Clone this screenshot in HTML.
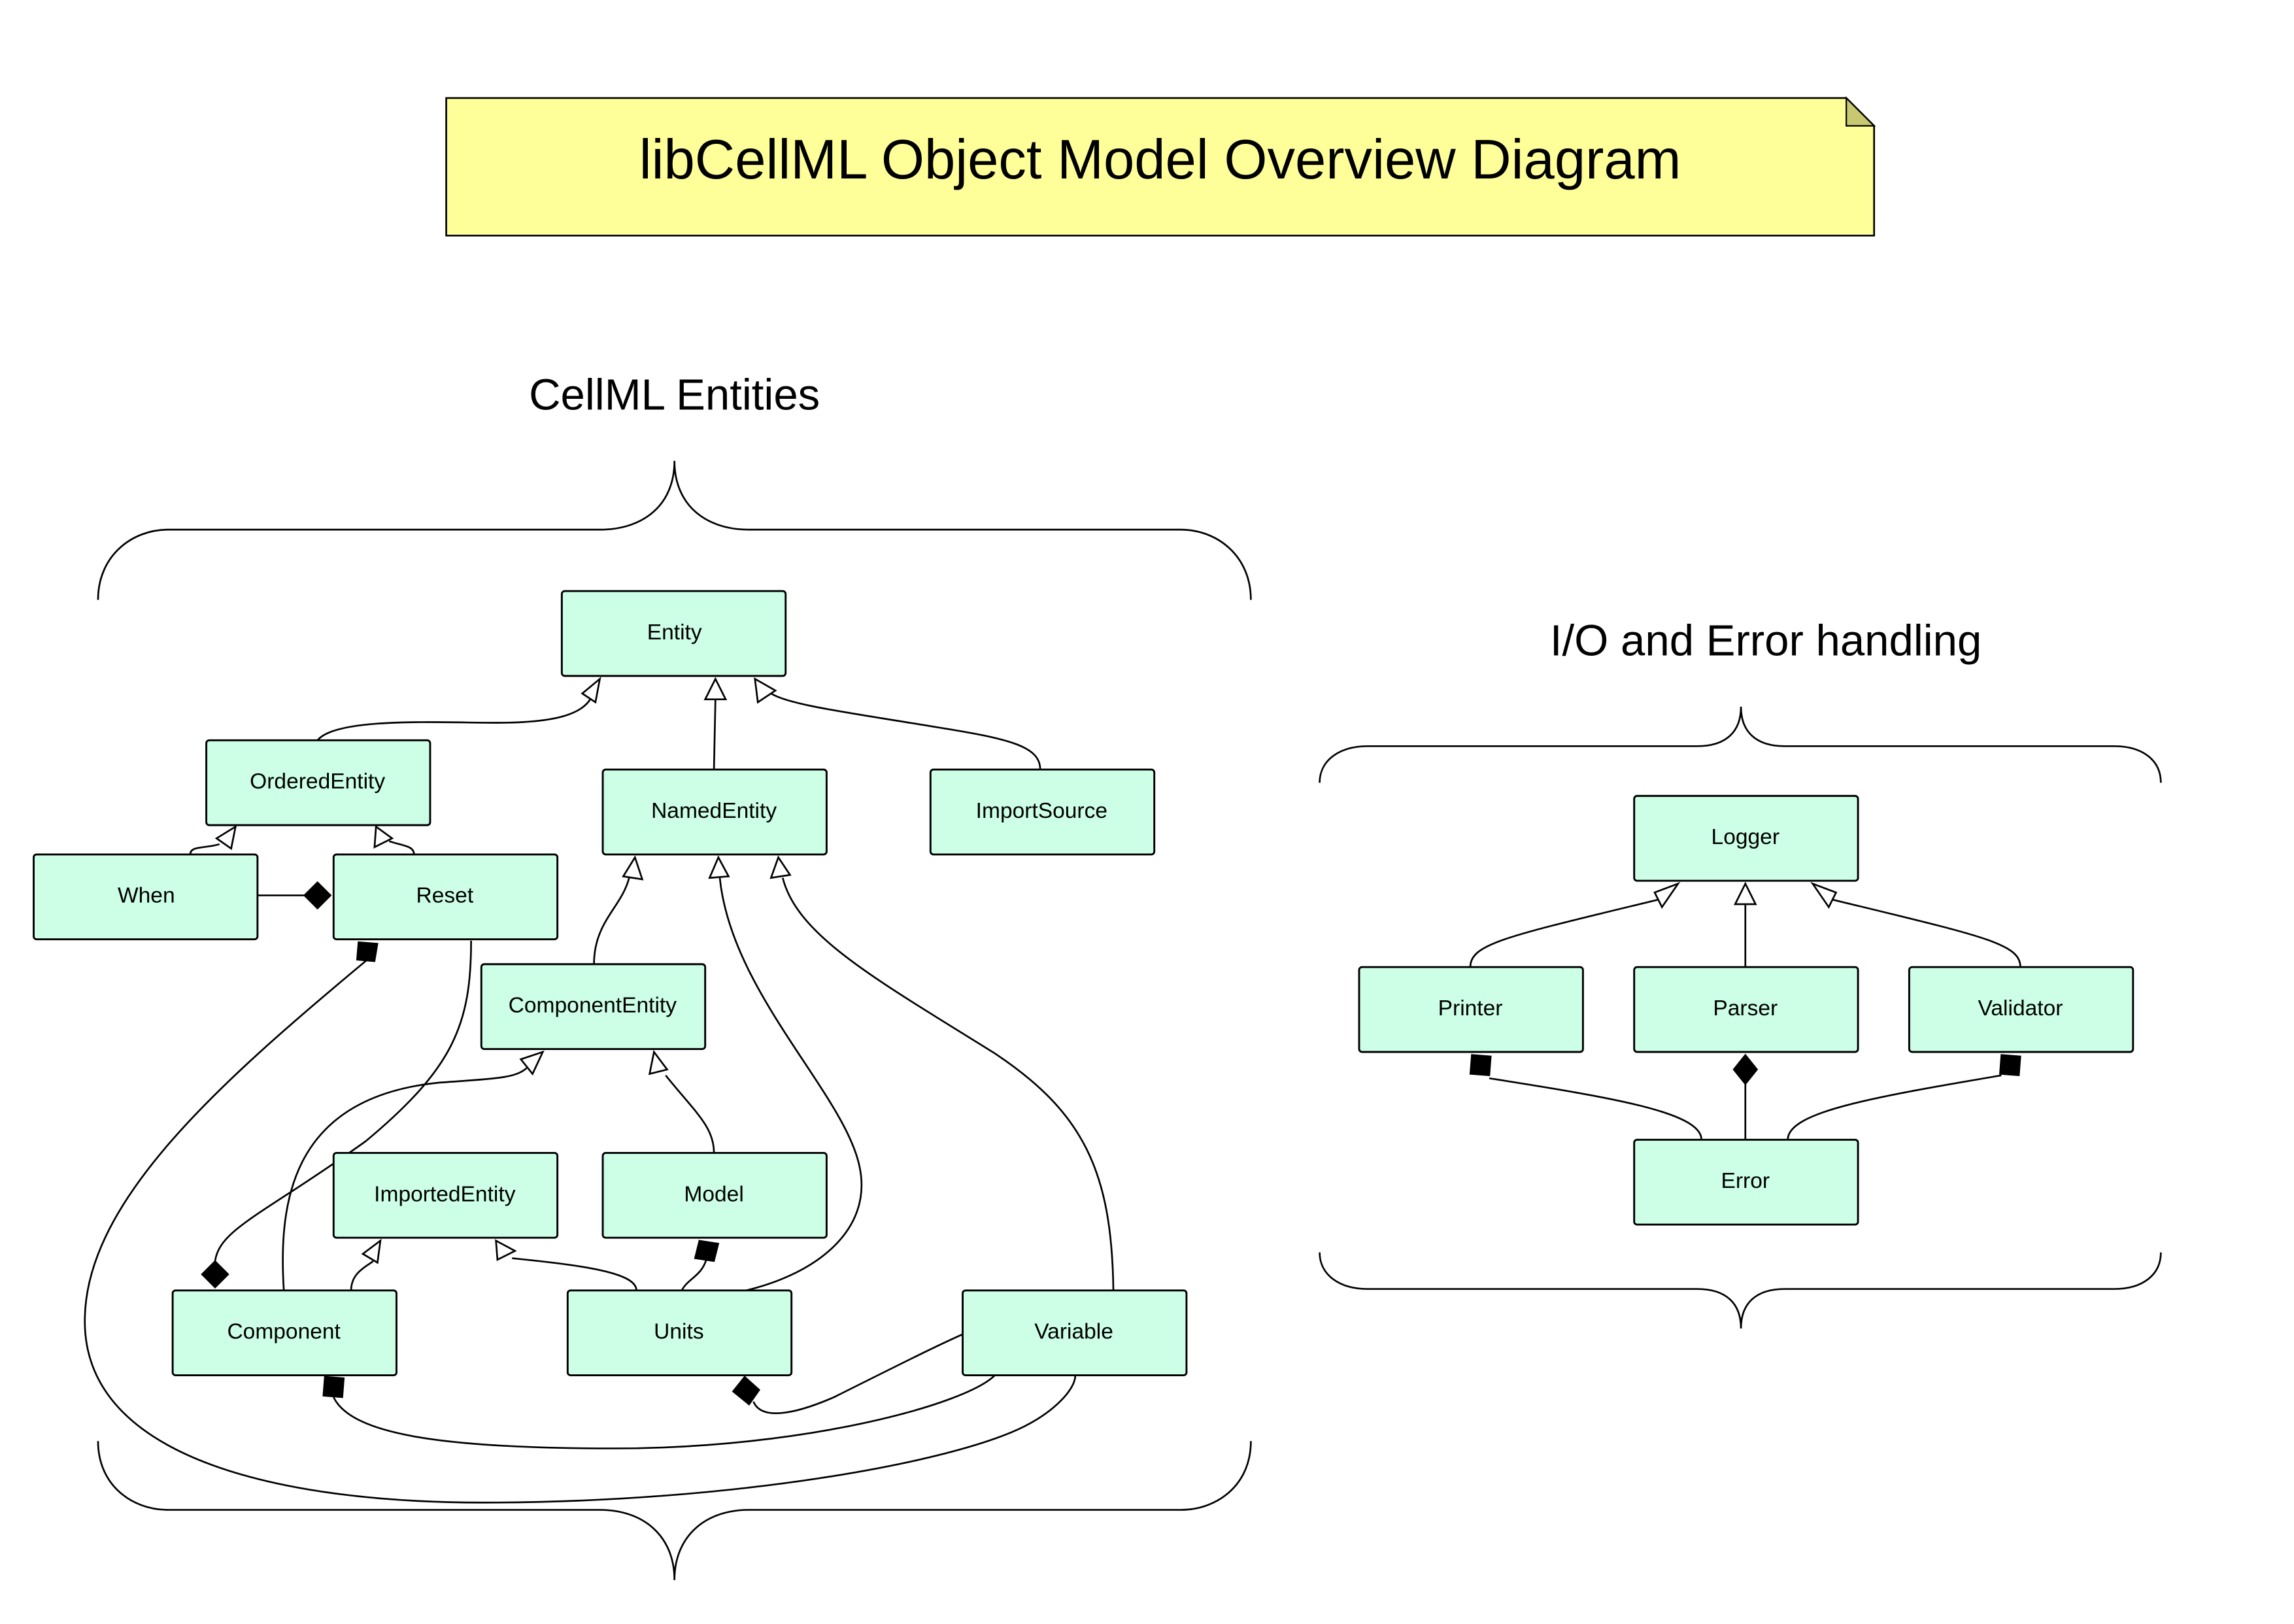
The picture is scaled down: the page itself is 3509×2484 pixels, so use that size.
<!DOCTYPE html>
<html><head><meta charset="utf-8"><style>
html,body{margin:0;padding:0;background:#fff;}
svg{display:block;}
text{font-family:"Liberation Sans",sans-serif;fill:#000;}
.b{fill:#ccffe6;stroke:#000;stroke-width:1.3;}
.l{fill:none;stroke:#000;stroke-width:1.2;}
.h{fill:#fff;stroke:#000;stroke-width:1.2;}
.f{fill:#000;stroke:#000;stroke-width:1;}
.t{font-size:15px;text-anchor:middle;}
</style></head><body>
<svg width="3509" height="2484" viewBox="0 0 1568 1110" xmlns="http://www.w3.org/2000/svg">
<rect width="1568" height="1110" fill="#fff"/>
<polygon points="305,67 1262,67 1281,86 1281,161 305,161" fill="#ffff99" stroke="#000" stroke-width="1.2"/>
<polygon points="1262,67 1281,86 1262,86" fill="#c8c870" stroke="#000" stroke-width="1"/>
<text x="793" y="122" font-size="38" text-anchor="middle">libCellML Object Model Overview Diagram</text>
<text x="461" y="280" font-size="30" text-anchor="middle">CellML Entities</text>
<text x="1207" y="448" font-size="30" text-anchor="middle">I/O and Error handling</text>
<path class="l" d="M67,410 C67,380 90,362 115,362 L410,362 C440,362 461,345 461,315 C461,345 482,362 512,362 L807,362 C832,362 855,380 855,410"/>
<path class="l" d="M67,985 C67,1015 90,1032 115,1032 L410,1032 C440,1032 461,1050 461,1080 C461,1050 482,1032 512,1032 L807,1032 C832,1032 855,1015 855,985"/>
<path class="l" d="M902,535 C902,520 915,510 935,510 L1160,510 C1180,510 1190,500 1190,483 C1190,500 1200,510 1220,510 L1445,510 C1465,510 1477,520 1477,535"/>
<path class="l" d="M902,856 C902,871 915,881 935,881 L1160,881 C1180,881 1190,891 1190,908 C1190,891 1200,881 1220,881 L1445,881 C1465,881 1477,871 1477,856"/>
<path class="l" d="M217,506 C230,490 300,494 340,494 C380,494 398,488 404,477"/>
<path class="l" d="M488,526 L489,478"/>
<path class="l" d="M711,526 C711,510 690,505 640,497 C580,487 540,482 527,474"/>
<path class="l" d="M130,584 C130,578 140,580 150,577"/>
<path class="l" d="M283,584 C283,578 275,578 266,575"/>
<path class="l" d="M176,612 L209,612"/>
<path class="l" d="M406,659 C406,630 425,620 430,600"/>
<path class="l" d="M510,882 C560,870 595,840 588,800 C580,750 500,680 492,600"/>
<path class="l" d="M761,882 C760,800 740,760 680,720 C600,670 545,640 535,600"/>
<path class="l" d="M194,882 C190,820 200,750 300,740 C340,737 352,737 360,730"/>
<path class="l" d="M488,788 C488,770 475,760 455,735"/>
<path class="l" d="M240,882 C240,870 250,866 255,862"/>
<path class="l" d="M435,882 C435,870 400,865 350,860"/>
<path class="l" d="M322,643 C322,700 310,730 250,780 C180,830 150,840 147,862"/>
<path class="l" d="M251,656 C150,740 60,820 58,900 C55,1000 200,1027 330,1027 C500,1027 650,1000 700,975 C720,965 735,950 735,940"/>
<path class="l" d="M228,955 C240,980 300,990 420,990 C550,990 660,960 680,940"/>
<path class="l" d="M515,958 C520,970 540,968 570,955 C620,930 640,920 658,912"/>
<path class="l" d="M483,860 C480,872 470,874 466,882"/>
<path class="l" d="M1005,661 C1005,645 1030,640 1133,615"/>
<path class="l" d="M1193,661 L1193,617"/>
<path class="l" d="M1381,661 C1381,645 1356,640 1253,615"/>
<path class="l" d="M1163,779 C1163,760 1100,750 1018,737"/>
<path class="l" d="M1193,740 L1193,779"/>
<path class="l" d="M1222,779 C1222,760 1280,750 1368,735"/>
<polygon class="h" points="410,464 398,474 407,480"/>
<polygon class="h" points="489,464 482,478 496,478"/>
<polygon class="h" points="516,464 518,480 530,472"/>
<polygon class="h" points="161,565 148,573 158,580"/>
<polygon class="h" points="257,565 256,579 268,573"/>
<polygon class="h" points="434,586 426,599 439,601"/>
<polygon class="h" points="491,586 485,600 498,599"/>
<polygon class="h" points="532,586 527,600 540,598"/>
<polygon class="h" points="371,719 356,724 364,734"/>
<polygon class="h" points="447,719 444,734 456,731"/>
<polygon class="h" points="260,848 248,857 258,863"/>
<polygon class="h" points="339,848 340,861 352,855"/>
<polygon class="h" points="1147,604 1131,610 1136,620"/>
<polygon class="h" points="1193,604 1186,618 1200,618"/>
<polygon class="h" points="1239,604 1250,620 1255,610"/>
<polygon class="f" points="208,612 217,603 226,612 217,621"/>
<polygon class="f" points="147,862 156,871 147,880 138,871"/>
<polygon class="f" points="1193,721 1201,731 1193,741 1185,731"/>
<polygon class="f" points="509,941 519,950 512,960 501,951"/>
<polygon class="f" points="245,644 258,645 256,657 244,656"/>
<polygon class="f" points="222,941 235,942 234,955 221,954"/>
<polygon class="f" points="478,848 491,850 488,862 475,860"/>
<polygon class="f" points="1006,721 1019,722 1018,735 1005,734"/>
<polygon class="f" points="1368,721 1381,722 1380,735 1367,734"/>
<rect class="b" x="384" y="404" width="153" height="58" rx="2"/><text class="t" x="461" y="437">Entity</text>
<rect class="b" x="141" y="506" width="153" height="58" rx="2"/><text class="t" x="217" y="539">OrderedEntity</text>
<rect class="b" x="412" y="526" width="153" height="58" rx="2"/><text class="t" x="488" y="559">NamedEntity</text>
<rect class="b" x="636" y="526" width="153" height="58" rx="2"/><text class="t" x="712" y="559">ImportSource</text>
<rect class="b" x="23" y="584" width="153" height="58" rx="2"/><text class="t" x="100" y="617">When</text>
<rect class="b" x="228" y="584" width="153" height="58" rx="2"/><text class="t" x="304" y="617">Reset</text>
<rect class="b" x="329" y="659" width="153" height="58" rx="2"/><text class="t" x="405" y="692">ComponentEntity</text>
<rect class="b" x="228" y="788" width="153" height="58" rx="2"/><text class="t" x="304" y="821">ImportedEntity</text>
<rect class="b" x="412" y="788" width="153" height="58" rx="2"/><text class="t" x="488" y="821">Model</text>
<rect class="b" x="118" y="882" width="153" height="58" rx="2"/><text class="t" x="194" y="915">Component</text>
<rect class="b" x="388" y="882" width="153" height="58" rx="2"/><text class="t" x="464" y="915">Units</text>
<rect class="b" x="658" y="882" width="153" height="58" rx="2"/><text class="t" x="734" y="915">Variable</text>
<rect class="b" x="1117" y="544" width="153" height="58" rx="2"/><text class="t" x="1193" y="577">Logger</text>
<rect class="b" x="929" y="661" width="153" height="58" rx="2"/><text class="t" x="1005" y="694">Printer</text>
<rect class="b" x="1117" y="661" width="153" height="58" rx="2"/><text class="t" x="1193" y="694">Parser</text>
<rect class="b" x="1305" y="661" width="153" height="58" rx="2"/><text class="t" x="1381" y="694">Validator</text>
<rect class="b" x="1117" y="779" width="153" height="58" rx="2"/><text class="t" x="1193" y="812">Error</text>
</svg>
</body></html>
